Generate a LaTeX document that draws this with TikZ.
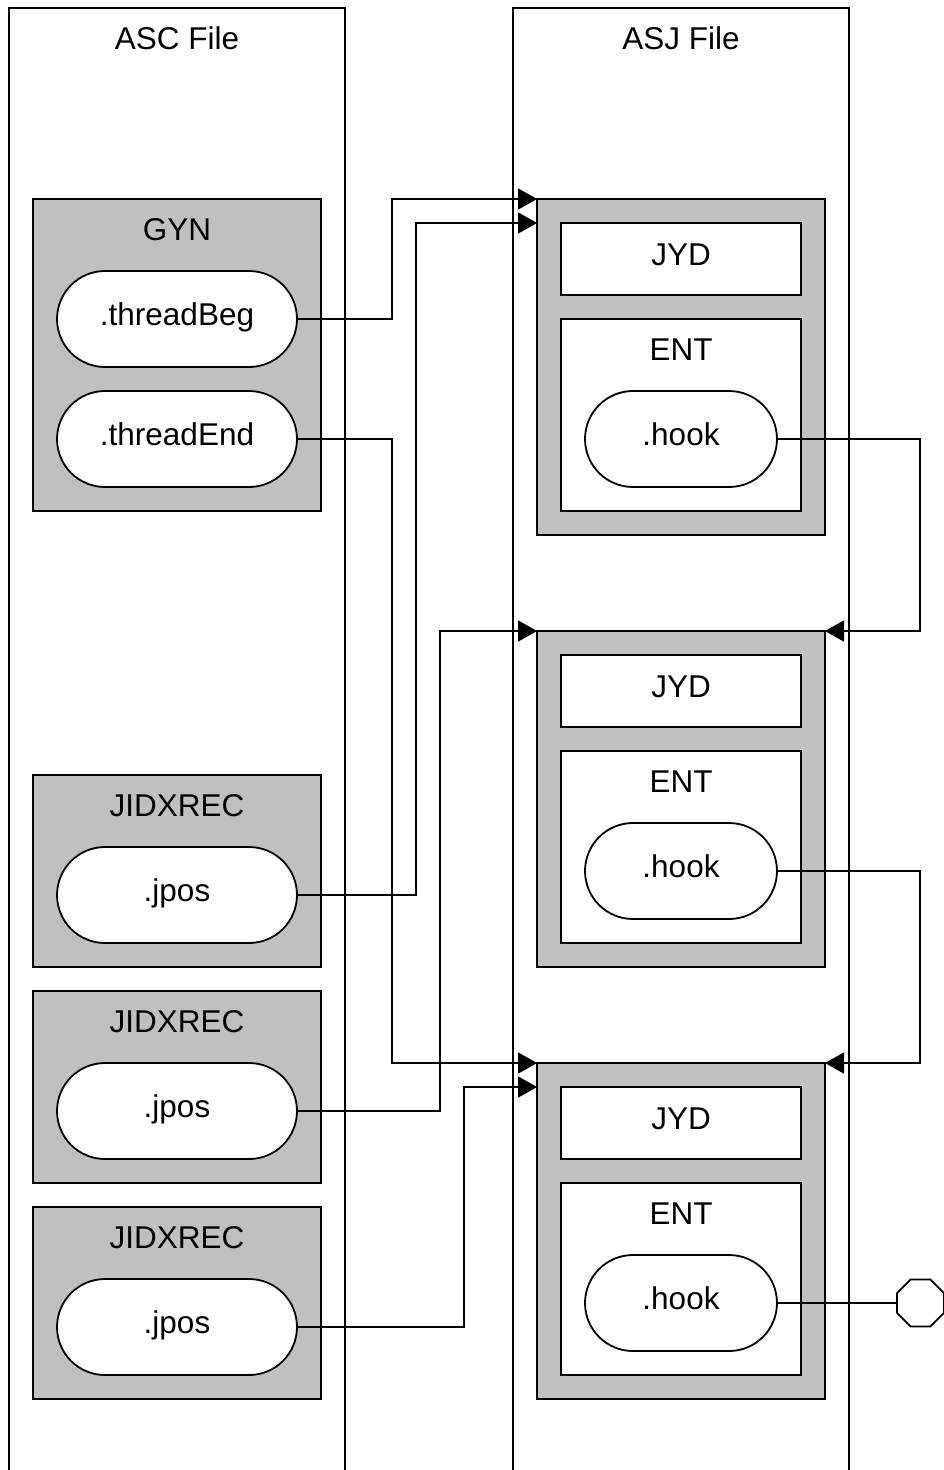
\documentclass[tikz,border=0pt]{standalone}
\usepackage{fontspec}
\setmainfont{Liberation Sans}
\usetikzlibrary{arrows.meta,shapes.misc,shapes.geometric,calc}
\definecolor{boxgray}{HTML}{C0C0C0}
\begin{document}
\begin{tikzpicture}[x=1pt,y=-1pt,
  every node/.style={outer sep=0pt,inner sep=0pt,font=\fontsize{31.5}{36}\selectfont},
  lane/.style={draw,line width=1.8pt,fill=white,minimum width=336pt,minimum height=1480pt,anchor=north},
  grp/.style={draw,line width=1.8pt,fill=boxgray,minimum width=288pt},
  intext/.style={text height=22pt,text depth=9pt},
  inbox/.style={draw,line width=1.8pt,fill=white,minimum width=240pt,intext},
  stad/.style={draw,line width=1.8pt,fill=white,rounded rectangle,minimum height=96pt,intext},
  conn/.style={line width=1.8pt},
  arr/.style={conn,-{Triangle[length=19pt,width=21pt]}},
  term/.style={draw,line width=1.8pt,fill=white,regular polygon,regular polygon sides=8,minimum size=51pt}
]
\useasboundingbox (0,0) rectangle (944,1470);
% lanes
\node[lane] (laneL) at (177,8) {};
\node (laneLt) at (177,38) {ASC File};
\node[lane] (laneR) at (681,8) {};
\node (laneRt) at (681,38) {ASJ File};
% left side
\node[grp,minimum height=312pt] (gyn) at (177,355) {};
\node (gynt) at (177,230) {GYN};
\node[stad,minimum width=240pt] (tb) at (177,319) {.threadBeg};
\node[stad,minimum width=240pt] (te) at (177,439) {.threadEnd};
\foreach \i/\y in {1/871,2/1087,3/1303}{
  \node[grp,minimum height=192pt] (J\i) at (177,\y) {};
  \node (J\i t) at (177,\y-65) {JIDXREC};
  \node[stad,minimum width=240pt] (p\i) at (177,\y+24) {.jpos};
}
% right side
\foreach \i/\y in {1/367,2/799,3/1231}{
  \node[grp,minimum height=336pt] (B\i) at (681,\y) {};
  \node[inbox,minimum height=72pt] (Y\i) at (681,\y-108) {JYD};
  \node[inbox,minimum height=192pt] (E\i) at (681,\y+48) {};
  \node (E\i t) at (681,\y-17) {ENT};
  \node[stad,minimum width=192pt] (h\i) at (681,\y+72) {.hook};
}
\node[term] (end) at (920.5,1303) {};
% connectors
\draw[arr] (tb.east) -- ++(95,0) |- (B1.north west);
\draw[arr] (p1.east) -- ++(119,0) |- ($(B1.north west)+(0,24)$);
\draw[arr] (te.east) -- ++(95,0) |- (B3.north west);
\draw[arr] (p2.east) -- ++(143,0) |- (B2.north west);
\draw[arr] (p3.east) -- ++(167,0) |- ($(B3.north west)+(0,24)$);
\draw[arr] (h1.east) -- ++(143,0) |- (B2.north east);
\draw[arr] (h2.east) -- ++(143,0) |- (B3.north east);
\draw[conn] (h3.east) -- (end.west);
\end{tikzpicture}
\end{document}
